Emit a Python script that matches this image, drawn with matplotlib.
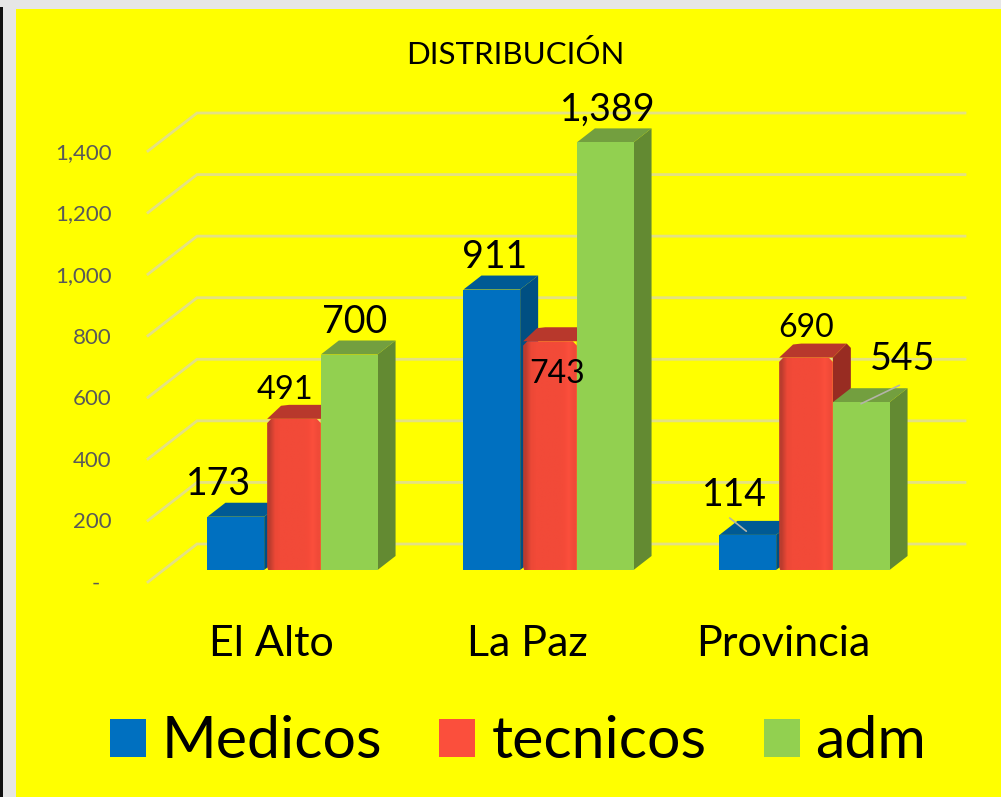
"""Recreate the DISTRIBUCIÓN pseudo-3D column chart."""
import matplotlib
matplotlib.use("Agg")
import matplotlib.pyplot as plt
import numpy as np
from matplotlib.colors import to_rgb
from matplotlib.patches import Patch, Polygon, Rectangle

CATEGORIES = ["El Alto", "La Paz", "Provincia"]
SERIES_NAMES = ["Medicos", "tecnicos", "adm"]
MEDICOS = [173, 911, 114]
TECNICOS = [491, 743, 690]
ADM = [700, 1389, 545]
Y_TICKS = [0, 200, 400, 600, 800, 1000, 1200, 1400]
Y_TICK_LABELS = ["-  ", "200", "400", "600", "800", "1,000", "1,200", "1,400"]

W, H = 1001, 797
PX_PER_CAT = 256.0
PX_PER_UNIT = 0.3078
BAR_W = 0.2215
RED_INSET = 3 / PX_PER_CAT
CAT_LABEL_SHIFT = 21 / PX_PER_CAT
DEPTH_X = 18 / PX_PER_CAT
DEPTH_Y = 14 / PX_PER_UNIT
FLOOR_FRONT = 12 / PX_PER_UNIT   # gridlines start below the bar base
FLOOR_BACK = 26 / PX_PER_UNIT
WALL_X = 49 / PX_PER_CAT

COLORS = {
    "Medicos": ("#0070c0", "#005a94", "#004f82"),
    "tecnicos": ("#f24a38", "#b8382c", "#982c22"),
    "adm": ("#92d050", "#739f3f", "#638a32"),
}
RED_STOPS = ["#bb3c2e", "#ec4836", "#f24a38", "#f24a38", "#f24a38", "#f24a38", "#f24a38",
             "#f44a38", "#fb4f3c", "#f04a38"]

# label offsets from the top centre of the front face, pixels, plus font size
LABEL_STYLE = {
    (0, 0): (-17, 33, 27), (0, 1): (-7, 29, 23.5), (0, 2): (5, 33, 27),
    (1, 0): (3, 33, 27), (1, 1): (9, -33, 23), (1, 2): (3, 33, 27),
    (2, 0): (-13, 40, 27), (2, 1): (2, 30, 23), (2, 2): (41, 43, 27),
}


def add_face(ax, pts, color, z):
    ax.add_patch(Polygon(pts, closed=True, facecolor=color, edgecolor="none", zorder=z))


def draw_bar(ax, x0, value, name, z):
    front, top, side = COLORS[name]
    x1 = x0 + BAR_W
    if name == "tecnicos":
        x0 += RED_INSET
        cut_x, cut_y = 0.016, 14
        back_x, back_y = x1 + DEPTH_X, value + DEPTH_Y
        add_face(ax, [(x1, 0), (back_x, DEPTH_Y), (back_x, back_y - cut_y), (back_x - cut_x, back_y), (x1, value)],
                 side, z)
        add_face(ax, [(x0, value), (x0 + DEPTH_X - cut_x, back_y - 3), (x0 + DEPTH_X + cut_x, back_y),
                      (back_x - cut_x, back_y), (x1, value)], top, z)
        grad = np.array([[to_rgb(c) for c in RED_STOPS]])
        im = ax.imshow(grad, extent=(x0, x1, 0, value), aspect="auto",
                       interpolation="bilinear", zorder=z + 0.1)
        clip = Polygon([(x0 + 0.004, 0), (x0, 10), (x0, value - cut_y), (x0 + cut_x, value), (x1 - cut_x, value),
                        (x1, value - cut_y), (x1, 0)], closed=True, transform=ax.transData)
        im.set_clip_path(clip)
    else:
        add_face(ax, [(x1, 0), (x1 + DEPTH_X, DEPTH_Y), (x1 + DEPTH_X, value + DEPTH_Y), (x1, value)], side, z)
        add_face(ax, [(x0, value), (x0 + DEPTH_X, value + DEPTH_Y), (x1 + DEPTH_X, value + DEPTH_Y), (x1, value)],
                 top, z)
        ax.add_patch(Rectangle((x0, 0), BAR_W, value, facecolor=front, edgecolor="none", zorder=z + 0.1))


fig = plt.figure(figsize=(W / 100, H / 100), dpi=100, facecolor="#e6e6e6")
plt.rcParams["font.family"] = ["Lato", "DejaVu Sans"]

fig.patches.append(Rectangle((16 / W, 0), 1 - 16 / W, 1 - 9 / H, transform=fig.transFigure,
                             facecolor="#ffff00", edgecolor="none", zorder=-2))
fig.patches.append(Rectangle((0, 0), 3 / W, 1 - 7 / H, transform=fig.transFigure,
                             facecolor="#111111", edgecolor="none", zorder=-2))

left, right, bottom, top = 148, 965, 582, 113
ax = fig.add_axes([left / W, 1 - bottom / H, (right - left) / W, (bottom - top) / H])
ax.patch.set_visible(False)
for spine in ax.spines.values():
    spine.set_visible(False)

x_lo = (left - 292.5) / PX_PER_CAT
x_hi = (right - 292.5) / PX_PER_CAT
y_lo = -FLOOR_FRONT
y_hi = Y_TICKS[-1] + FLOOR_BACK

for t in Y_TICKS:
    ax.plot([x_lo, x_lo + WALL_X, x_hi], [t - FLOOR_FRONT, t + FLOOR_BACK, t + FLOOR_BACK],
            color="#e4e183", linewidth=2.0, solid_joinstyle="miter", zorder=1, clip_on=False)

series = [MEDICOS, TECNICOS, ADM]
for c in range(len(CATEGORIES)):
    for s, (name, vals) in enumerate(zip(SERIES_NAMES, series)):
        x0 = c + (s - 1.5) * BAR_W
        draw_bar(ax, x0, vals[c], name, 2 + c + s * 0.2)
        dx, dy, size = LABEL_STYLE[(c, s)]
        ax.annotate(f"{vals[c]:,}", (x0 + BAR_W / 2, vals[c]), xytext=(dx * 0.72, dy * 0.72),
                    textcoords="offset points", ha="center", va="center",
                    fontsize=size, color="black", zorder=10)

# leader lines of the two moved labels
ax.annotate("", (2 - 1.5 * BAR_W + 0.105, MEDICOS[2] + 12), xytext=(2 - 1.5 * BAR_W + 0.04, MEDICOS[2] + 55),
            arrowprops=dict(arrowstyle="-", color="#b4b4a8", lw=1.2, shrinkA=0, shrinkB=0), zorder=11)
ax.annotate("", (2 + 0.5 * BAR_W + 0.26, ADM[2] + 55), xytext=(2 + 0.5 * BAR_W + 0.11, ADM[2] - 5),
            arrowprops=dict(arrowstyle="-", color="#b4b4a8", lw=1.2, shrinkA=0, shrinkB=0), zorder=11)

ax.set_xlim(x_lo, x_hi)
ax.set_ylim(y_lo, y_hi)
ax.set_xticks([c - CAT_LABEL_SHIFT for c in range(len(CATEGORIES))], labels=CATEGORIES)
ax.set_yticks([t - FLOOR_FRONT for t in Y_TICKS], labels=Y_TICK_LABELS)
ax.tick_params(axis="x", length=0, pad=31, labelsize=31, labelcolor="black")
ax.tick_params(axis="y", length=0, pad=26, labelsize=16, labelcolor="#595959")

fig.text(515 / W, 1 - 55 / H, "DISTRIBUCIÓN", ha="center", va="center", fontsize=22.5, color="black")

handles = [Patch(facecolor=COLORS[n][0] if n != "tecnicos" else "#fb4f3c", edgecolor="none") for n in SERIES_NAMES]
fig.legend(handles, SERIES_NAMES, loc="center", bbox_to_anchor=(518 / W, 1 - 742 / H), ncol=3,
           frameon=False, fontsize=42.5, handlelength=0.61, handleheight=0.61, handletextpad=0.27,
           columnspacing=0.97, labelcolor="black")

fig.savefig("out.png", dpi=100, facecolor=fig.get_facecolor())
